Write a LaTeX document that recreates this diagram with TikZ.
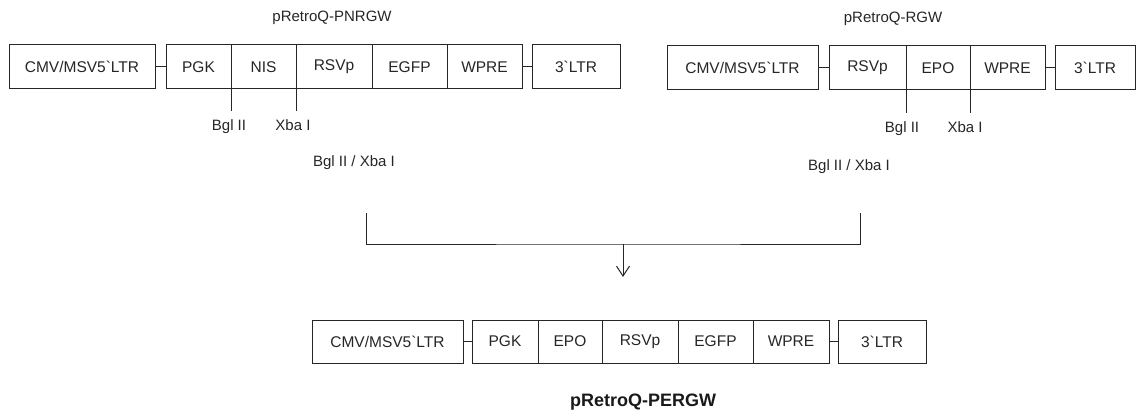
\documentclass[tikz,border=0pt]{standalone}
\usepackage{fontspec}
\setmainfont{Liberation Sans}
\usepackage{tikz}
\usetikzlibrary{arrows.meta,positioning}
\tikzset{
  segbox/.style={
    draw=black!85,
    line width=1pt,
    minimum height=44pt,
    inner sep=0pt,
    outer sep=0pt,
    text=black!85,
    font=\fontsize{15.5}{18}\selectfont
  },
  linker/.style={draw=black!85, line width=1pt},
  sitelabel/.style={inner sep=0pt, text=black!85, font=\fontsize{15}{17}\selectfont},
  titlelabel/.style={inner sep=0pt, text=black!85, font=\fontsize{15}{18}\selectfont},
  flow/.style={-{Straight Barb[length=10pt,width=13pt]}, line width=1pt, draw=black!85}
}

\begin{document}
\begin{tikzpicture}[x=1pt, y=-1pt]
\useasboundingbox (0,0) rectangle (1137,414);

% pRetroQ-PNRGW
\node[titlelabel] (titleA) at (332,18) {pRetroQ-PNRGW};
\node[segbox, minimum width=146pt, anchor=west] (cmvA) at (9,67) {CMV/MSV5\textasciigrave LTR};
\node[segbox, minimum width=65pt, anchor=west] (pgkA) at (166,67) {PGK};
\node[segbox, minimum width=65pt, right=0pt of pgkA] (nisA) {NIS};
\node[segbox, minimum width=76pt, right=0pt of nisA] (rsvA) {RSVp};
\node[segbox, minimum width=75pt, right=0pt of rsvA] (egfpA) {EGFP};
\node[segbox, minimum width=75pt, right=0pt of egfpA] (wpreA) {WPRE};
\node[segbox, minimum width=88pt, anchor=west] (ltrA) at (532,67) {3\textasciigrave LTR};
\draw[linker] (cmvA.east) -- (pgkA.west);
\draw[linker] (wpreA.east) -- (ltrA.west);
\draw[linker] (pgkA.south east) -- ++(0,22) node[sitelabel, below=8pt, xshift=-2pt] (bglA) {Bgl II};
\draw[linker] (nisA.south east) -- ++(0,22) node[sitelabel, below=8pt, xshift=-3pt] (xbaA) {Xba I};
\node[sitelabel] (cutA) at (354,163) {Bgl II / Xba I};

% pRetroQ-RGW
\node[titlelabel] (titleB) at (893,19) {pRetroQ-RGW};
\node[segbox, minimum width=151pt, anchor=west] (cmvB) at (667,68) {CMV/MSV5\textasciigrave LTR};
\node[segbox, minimum width=77pt, anchor=west] (rsvB) at (829,68) {RSVp};
\node[segbox, minimum width=64pt, right=0pt of rsvB] (epoB) {EPO};
\node[segbox, minimum width=75pt, right=0pt of epoB] (wpreB) {WPRE};
\node[segbox, minimum width=80pt, anchor=west] (ltrB) at (1055,68) {3\textasciigrave LTR};
\draw[linker] (cmvB.east) -- (rsvB.west);
\draw[linker] (wpreB.east) -- (ltrB.west);
\draw[linker] (rsvB.south east) -- ++(0,23) node[sitelabel, below=8pt, xshift=-4pt] (bglB) {Bgl II};
\draw[linker] (epoB.south east) -- ++(0,23) node[sitelabel, below=8pt, xshift=-5pt] (xbaB) {Xba I};
\node[sitelabel] (cutB) at (849,167) {Bgl II / Xba I};

% ligation
\coordinate (brL) at (366,213);
\coordinate (brR) at (860,213);
\coordinate (brM) at (623,244);
\coordinate (arrEnd) at (623,277);
\draw[linker] (brL) |- (brM) -| (brR);
\draw[flow] (brM) -- (arrEnd);

% pRetroQ-PERGW
\node[segbox, minimum width=151pt, minimum height=43pt, anchor=west] (cmvC) at (312,341.5) {CMV/MSV5\textasciigrave LTR};
\node[segbox, minimum width=66pt, minimum height=43pt, anchor=west] (pgkC) at (472,341.5) {PGK};
\node[segbox, minimum width=64pt, minimum height=43pt, right=0pt of pgkC] (epoC) {EPO};
\node[segbox, minimum width=76pt, minimum height=43pt, right=0pt of epoC] (rsvC) {RSVp};
\node[segbox, minimum width=75pt, minimum height=43pt, right=0pt of rsvC] (egfpC) {EGFP};
\node[segbox, minimum width=76pt, minimum height=43pt, right=0pt of egfpC] (wpreC) {WPRE};
\node[segbox, minimum width=88pt, minimum height=43pt, anchor=west] (ltrC) at (838,341.5) {3\textasciigrave LTR};
\draw[linker] (cmvC.east) -- (pgkC.west);
\draw[linker] (wpreC.east) -- (ltrC.west);
\node[inner sep=0pt, text=black!90, font=\bfseries\fontsize{18}{21}\selectfont] (titleC) at (643,402) {pRetroQ-PERGW};
\end{tikzpicture}
\end{document}
